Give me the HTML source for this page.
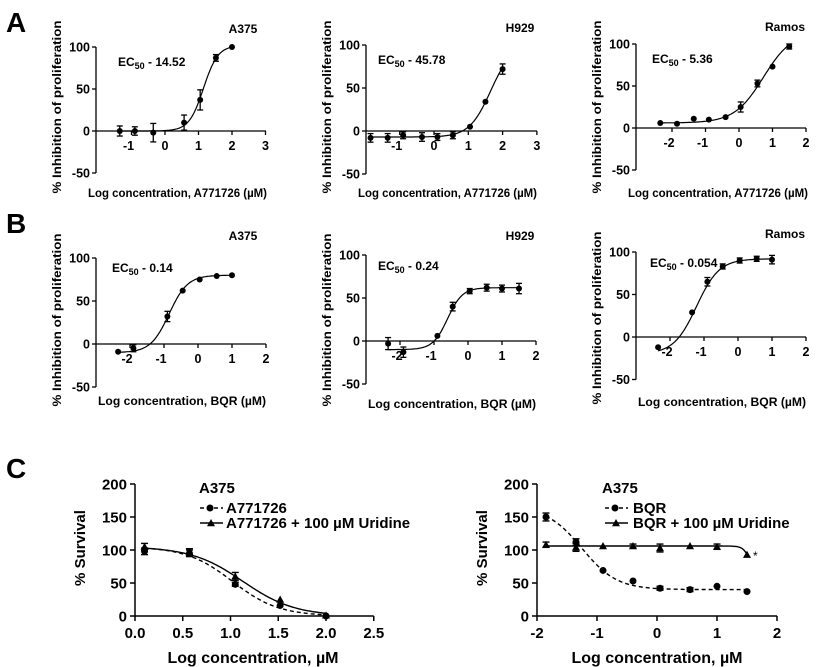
<!DOCTYPE html>
<html><head><meta charset="utf-8"><style>
html,body{margin:0;padding:0;background:#fff}
svg{display:block}
text{font-family:"Liberation Sans",Arial,sans-serif;fill:#000}
</style></head><body>
<svg id="s" width="825" height="667" viewBox="0 0 825 667" xmlns="http://www.w3.org/2000/svg">
<text x="6" y="32" font-size="28" font-weight="bold">A</text>
<text x="6" y="233" font-size="28" font-weight="bold">B</text>
<text x="6" y="478" font-size="28" font-weight="bold">C</text>
<g font-size="12" font-weight="bold">
<text x="243" y="33" text-anchor="middle">A375</text>
<text x="520" y="32" text-anchor="middle">H929</text>
<text x="785" y="31" text-anchor="middle">Ramos</text>
<text x="243" y="240" text-anchor="middle">A375</text>
<text x="520" y="240" text-anchor="middle">H929</text>
<text x="785" y="238" text-anchor="middle">Ramos</text>
<text x="118" y="66">EC<tspan font-size="9" dy="3">50</tspan><tspan dy="-3"> - 14.52</tspan></text>
<text x="378" y="64">EC<tspan font-size="9" dy="3">50</tspan><tspan dy="-3"> - 45.78</tspan></text>
<text x="652" y="63">EC<tspan font-size="9" dy="3">50</tspan><tspan dy="-3"> - 5.36</tspan></text>
<text x="112" y="272">EC<tspan font-size="9" dy="3">50</tspan><tspan dy="-3"> - 0.14</tspan></text>
<text x="378" y="270">EC<tspan font-size="9" dy="3">50</tspan><tspan dy="-3"> - 0.24</tspan></text>
<text x="650" y="267">EC<tspan font-size="9" dy="3">50</tspan><tspan dy="-3"> - 0.054</tspan></text>
<text x="88" y="197" textLength="179" lengthAdjust="spacingAndGlyphs">Log concentration, A771726 (µM)</text>
<text x="358" y="197" textLength="179" lengthAdjust="spacingAndGlyphs">Log concentration, A771726 (µM)</text>
<text x="628" y="197" textLength="180" lengthAdjust="spacingAndGlyphs">Log concentration, A771726 (µM)</text>
<text x="98" y="405" textLength="168" lengthAdjust="spacingAndGlyphs">Log concentration, BQR (µM)</text>
<text x="368" y="408" textLength="168" lengthAdjust="spacingAndGlyphs">Log concentration, BQR (µM)</text>
<text x="638" y="406" textLength="168" lengthAdjust="spacingAndGlyphs">Log concentration, BQR (µM)</text>
<text transform="translate(61,107) rotate(-90)" text-anchor="middle" textLength="173" lengthAdjust="spacingAndGlyphs">% Inhibition of proliferation</text>
<text transform="translate(331,107) rotate(-90)" text-anchor="middle" textLength="173" lengthAdjust="spacingAndGlyphs">% Inhibition of proliferation</text>
<text transform="translate(601,107) rotate(-90)" text-anchor="middle" textLength="173" lengthAdjust="spacingAndGlyphs">% Inhibition of proliferation</text>
<text transform="translate(61,320) rotate(-90)" text-anchor="middle" textLength="173" lengthAdjust="spacingAndGlyphs">% Inhibition of proliferation</text>
<text transform="translate(331,320) rotate(-90)" text-anchor="middle" textLength="173" lengthAdjust="spacingAndGlyphs">% Inhibition of proliferation</text>
<text transform="translate(601,318) rotate(-90)" text-anchor="middle" textLength="173" lengthAdjust="spacingAndGlyphs">% Inhibition of proliferation</text>
</g>
<g font-size="15" font-weight="bold">
<text x="199" y="493">A375</text>
<text x="226" y="513">A771726</text>
<text x="226" y="528">A771726 + 100 µM Uridine</text>
<text x="602" y="493">A375</text>
<text x="633" y="513">BQR</text>
<text x="633" y="528">BQR + 100 µM Uridine</text>
<text x="253" y="663" text-anchor="middle" font-size="16">Log concentration, µM</text>
<text x="657" y="663" text-anchor="middle" font-size="16">Log concentration, µM</text>
<text transform="translate(85,548) rotate(-90)" text-anchor="middle">% Survival</text>
<text transform="translate(487,548) rotate(-90)" text-anchor="middle">% Survival</text>
<text x="753" y="560" font-size="12" font-weight="normal">*</text>
</g>
<g id="g"></g>
</svg>
<script>
var g=document.getElementById('g'),NS='http://www.w3.org/2000/svg';
function el(t,a,txt){var e=document.createElementNS(NS,t);for(var k in a)e.setAttribute(k,a[k]);if(txt!=null)e.textContent=txt;g.appendChild(e);return e;}
function sig(b,t,ec,h){return function(x){return b+(t-b)/(1+Math.pow(10,(ec-x)*h));};}
function sigd(b,t,ec,h){return function(x){return b+(t-b)/(1+Math.pow(10,(x-ec)*h));};}
function tri(x,y,s){el('polygon',{points:(x)+','+(y-s)+' '+(x-s)+','+(y+s*0.8)+' '+(x+s)+','+(y+s*0.8),fill:'#000'});}
function panel(p){
 var X=function(v){return p.x0+p.xs*v;},Y=function(v){return p.y0-(p.y0-p.y100)/100*v;};
 el('line',{x1:p.ax,y1:Y(-50),x2:p.ax,y2:Y(100),stroke:'#000','stroke-width':1.3});
 [-50,0,50,100].forEach(function(v){el('line',{x1:p.ax-4,y1:Y(v),x2:p.ax,y2:Y(v),stroke:'#000','stroke-width':1.3});
  el('text',{x:p.ax-6,y:Y(v)+4.5,'text-anchor':'end','font-size':12.5,'font-weight':'bold'},String(v));});
 el('line',{x1:p.ax,y1:Y(0),x2:p.xe,y2:Y(0),stroke:'#000','stroke-width':1.3});
 p.ticks.forEach(function(v){el('line',{x1:X(v),y1:Y(0),x2:X(v),y2:Y(0)+4,stroke:'#000','stroke-width':1.3});
  el('text',{x:X(v)-(v<0?3:0),y:Y(0)+19,'text-anchor':'middle','font-size':12.5,'font-weight':'bold'},String(v));});
 var d='';for(var i=0;i<=120;i++){var v=p.d[0][0]+(p.d[p.d.length-1][0]-p.d[0][0])*i/120;d+=(i?'L':'M')+X(v).toFixed(1)+','+Y(p.f(v)).toFixed(1);}
 el('path',{d:d,fill:'none',stroke:'#000','stroke-width':1.2});
 p.d.forEach(function(q){var e=q[2]||0;if(e){el('line',{x1:X(q[0]),y1:Y(q[1]-e),x2:X(q[0]),y2:Y(q[1]+e),stroke:'#000','stroke-width':1.3});
  [q[1]-e,q[1]+e].forEach(function(w){el('line',{x1:X(q[0])-3,y1:Y(w),x2:X(q[0])+3,y2:Y(w),stroke:'#000','stroke-width':1.3});});}
  el('circle',{cx:X(q[0]),cy:Y(q[1]),r:3,fill:'#000'});});
}
panel({ax:96,y100:47,y0:131,x0:165,xs:33.5,xe:266,ticks:[-1,0,1,2,3],f:sig(0,102,1.15,2),
 d:[[-1.35,0,6],[-0.9,0,5],[-0.35,-2,11],[0.57,10,9],[1.05,37,12],[1.52,87,4],[2,100]]});
panel({ax:366,y100:45,y0:131,x0:434,xs:34.3,xe:537,ticks:[-1,0,1,2,3],f:function(x){return Math.max(-7,sig(-7,100,1.65,1.4)(x));},
 d:[[-1.85,-8,5],[-1.35,-8,5],[-0.9,-5,4],[-0.35,-7,5],[0.1,-7,4],[0.55,-5,4],[1.05,5],[1.5,34],[2,72,6]]});
panel({ax:636,y100:44,y0:128,x0:739,xs:33.5,xe:806,ticks:[-2,-1,0,1,2],f:sig(6,115,0.73,1),
 d:[[-2.35,6],[-1.85,5],[-1.35,11],[-0.9,10],[-0.4,13],[0.05,25,6],[0.55,53,4],[1,73],[1.5,97,3]]});
panel({ax:96,y100:258,y0:344,x0:198,xs:34,xe:266,ticks:[-2,-1,0,1,2],f:sig(-10,80,-0.85,1.6),
 d:[[-2.35,-9],[-1.9,-5,4],[-0.9,32,6],[-0.45,62],[0.05,75],[0.55,79],[1,80]]});
panel({ax:366,y100:255,y0:341,x0:468,xs:34,xe:536,ticks:[-2,-1,0,1,2],f:sig(-10,62,-0.6,2),
 d:[[-2.35,-3,7],[-1.9,-13,6],[-0.9,6],[-0.45,40,5],[0.05,58,3],[0.55,62,4],[1,61,4],[1.5,61,6]]});
panel({ax:636,y100:252,y0:337,x0:738,xs:34,xe:806,ticks:[-2,-1,0,1,2],f:sig(-20,92,-1.22,1.3),
 d:[[-2.35,-12],[-1.35,29],[-0.9,65,5],[-0.45,83,3],[0.05,90,3],[0.55,92,3],[1,91,5]]});
function cpanel(p){
 var X=function(v){return p.x0+p.xs*v;},Y=function(v){return 616-0.66*v;};
 el('line',{x1:p.x0+p.xs*p.xl[0],y1:Y(0),x2:X(p.xl[p.xl.length-1]),y2:Y(0),stroke:'#000','stroke-width':1.5});
 el('line',{x1:p.ax,y1:Y(0),x2:p.ax,y2:Y(200),stroke:'#000','stroke-width':1.5});
 [0,50,100,150,200].forEach(function(v){el('line',{x1:p.ax-5,y1:Y(v),x2:p.ax,y2:Y(v),stroke:'#000','stroke-width':1.5});
  el('text',{x:p.ax-8,y:Y(v)+5.5,'text-anchor':'end','font-size':15,'font-weight':'bold'},String(v));});
 p.xl.forEach(function(v,i){el('line',{x1:X(v),y1:Y(0),x2:X(v),y2:Y(0)+5,stroke:'#000','stroke-width':1.5});
  el('text',{x:X(v),y:638,'text-anchor':'middle','font-size':15,'font-weight':'bold'},p.xt[i]);});
 p.s.forEach(function(s){var d='',a=s.d[0][0],b=s.d[s.d.length-1][0];
  for(var i=0;i<=120;i++){var v=a+(b-a)*i/120;d+=(i?'L':'M')+X(v).toFixed(1)+','+Y(s.f(v)).toFixed(1);}
  var at={d:d,fill:'none',stroke:'#000','stroke-width':1.4};if(s.dash)at['stroke-dasharray']='4,3';el('path',at);
  s.d.forEach(function(q){var e=q[2]||0;if(e){el('line',{x1:X(q[0]),y1:Y(q[1]-e),x2:X(q[0]),y2:Y(q[1]+e),stroke:'#000','stroke-width':1.4});
   [q[1]-e,q[1]+e].forEach(function(w){el('line',{x1:X(q[0])-3.5,y1:Y(w),x2:X(q[0])+3.5,y2:Y(w),stroke:'#000','stroke-width':1.4});});}
   if(s.tri)tri(X(q[0]),Y(q[1]),4);else el('circle',{cx:X(q[0]),cy:Y(q[1]),r:3.5,fill:'#000'});});});
 el('line',{x1:p.lx,y1:508,x2:p.lx+23,y2:508,stroke:'#000','stroke-width':1.4,'stroke-dasharray':'4,3'});
 el('circle',{cx:p.lx+10,cy:508,r:3.5,fill:'#000'});
 el('line',{x1:p.lx,y1:523,x2:p.lx+23,y2:523,stroke:'#000','stroke-width':1.4});tri(p.lx+11,523,4);
}
cpanel({ax:135,x0:135,xs:95.5,xl:[0,0.5,1,1.5,2,2.5],xt:['0.0','0.5','1.0','1.5','2.0','2.5'],lx:200,
 s:[{dash:1,f:sigd(0,105,1.02,1.8),d:[[0.1,98,5],[0.57,95,5],[1.05,48,3],[1.52,16],[2,0]]},
    {tri:1,f:sigd(0,105,1.13,1.6),d:[[0.1,105,5],[0.57,97,5],[1.05,60,6],[1.52,25],[2,1]]}]});
cpanel({ax:537,x0:657,xs:60,xl:[-2,-1,0,1,2],xt:['-2','-1','0','1','2'],lx:605,
 s:[{dash:1,f:sigd(40,165,-1.25,1.5),d:[[-1.85,150,6],[-1.35,112,5],[-0.9,69],[-0.4,53],[0.05,42,3],[0.55,40,3],[1,45],[1.5,37]]},
    {tri:1,f:sigd(0,106,1.617,7.25),d:[[-1.85,108,4],[-1.35,104,6],[-0.9,106],[-0.4,106,3],[0.05,103,6],[0.55,106],[1,105,4],[1.5,93]]}]});
</script>
</body></html>
